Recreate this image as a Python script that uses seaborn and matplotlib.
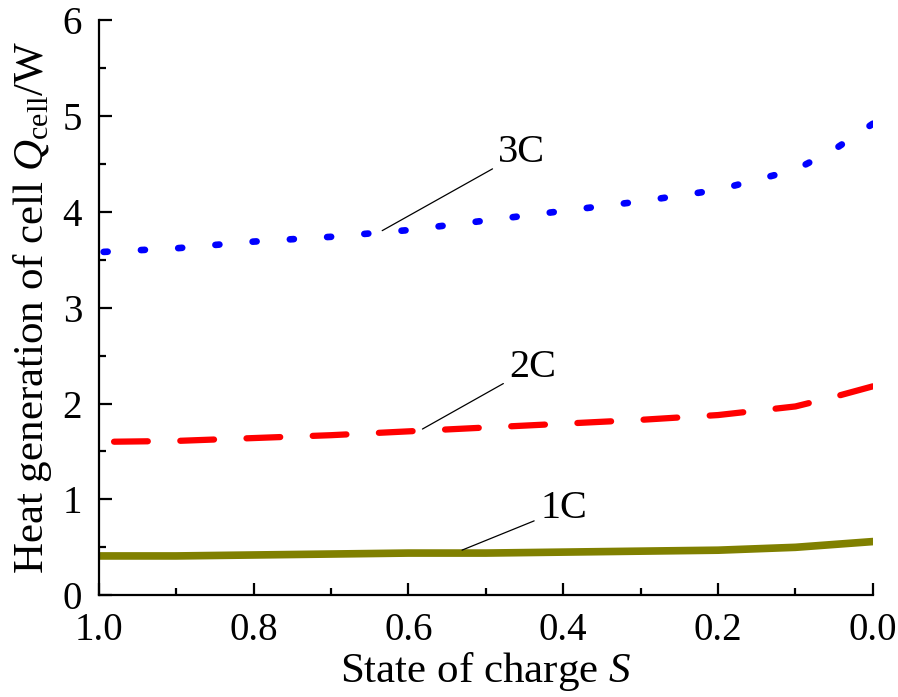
import numpy as np
import pandas as pd
import seaborn as sns
import matplotlib
matplotlib.use('Agg')
import matplotlib.pyplot as plt

# данные
soc = [1.0, 0.9, 0.8, 0.7, 0.6, 0.5, 0.4, 0.3, 0.2, 0.1, 0.05, 0.0]
q_1c = [0.41, 0.41, 0.42, 0.43, 0.44, 0.44, 0.45, 0.46, 0.47, 0.50, 0.53, 0.56]
q_2c = [1.60, 1.61, 1.64, 1.67, 1.71, 1.75, 1.79, 1.83, 1.88, 1.97, 2.07, 2.18]
q_3c = [3.58, 3.62, 3.69, 3.74, 3.81, 3.91, 4.01, 4.11, 4.23, 4.44, 4.65, 4.92]

sns.set_style("ticks", {'axes.edgecolor': 'black', 'text.color': 'black',
                        'axes.labelcolor': 'black', 'xtick.color': 'black',
                        'ytick.color': 'black'})
plt.rcParams['font.family'] = ['Liberation Serif', 'DejaVu Serif']
plt.rcParams['mathtext.fontset'] = 'custom'
plt.rcParams['mathtext.rm'] = 'Liberation Serif'
plt.rcParams['mathtext.it'] = 'Liberation Serif:italic'

df = pd.DataFrame({'S': soc * 3,
                   'Q': q_1c + q_2c + q_3c,
                   'rate': ['1C'] * len(soc) + ['2C'] * len(soc) + ['3C'] * len(soc)})

fig = plt.figure(figsize=(8.98, 6.97), dpi=100)
ax = fig.add_axes([0.110, 0.146, 0.862, 0.825])

sns.lineplot(data=df[df.rate == '1C'], x='S', y='Q', color='#808000', lw=5.5, ax=ax)
sns.lineplot(data=df[df.rate == '2C'], x='S', y='Q', color='#ff0000', lw=4.5, ax=ax)
sns.lineplot(data=df[df.rate == '3C'], x='S', y='Q', color='#0000ff', lw=4.8, ax=ax)
lines = ax.get_lines()
lines[1].set_linestyle((0, (5.4, 5.2)))
lines[1].set_dash_capstyle('round')
lines[2].set_linestyle((0, (0.6, 5.0)))
lines[2].set_dash_capstyle('round')

ax.set_xlim(1.0, 0.0)
ax.set_ylim(0, 6)
ax.set_xticks([1.0, 0.8, 0.6, 0.4, 0.2, 0.0])
ax.set_xticks(np.arange(0.1, 1.0, 0.2), minor=True)
ax.set_yticks(range(0, 7))
ax.set_yticks(np.arange(0.5, 6, 1.0), minor=True)
ax.set_xticklabels(['1.0', '0.8', '0.6', '0.4', '0.2', '0.0'])
ax.tick_params(which='major', direction='in', length=9, width=1.6, labelsize=28, pad=12)
ax.tick_params(which='minor', direction='in', length=5, width=1.6)
for side in ['top', 'right']:
    ax.spines[side].set_visible(False)
for side in ['left', 'bottom']:
    ax.spines[side].set_linewidth(1.6)

ax.set_xlabel(r'State of charge $\mathit{S}$', fontsize=31, labelpad=1)
ax.set_ylabel(r'Heat generation of cell $\mathit{Q}_{\mathrm{cell}}$/W', fontsize=31, labelpad=6)

ann = dict(arrowprops=dict(arrowstyle='-', color='black', lw=0.9), fontsize=29,
           va='center', ha='left')
ax.annotate('3C', xy=(0.637, 3.79), xytext=(0.484, 4.62), **ann)
ax.annotate('2C', xy=(0.585, 1.72), xytext=(0.470, 2.38), **ann)
ax.annotate('1C', xy=(0.534, 0.46), xytext=(0.430, 0.90), **ann)

fig.savefig('out.png', dpi=100)
